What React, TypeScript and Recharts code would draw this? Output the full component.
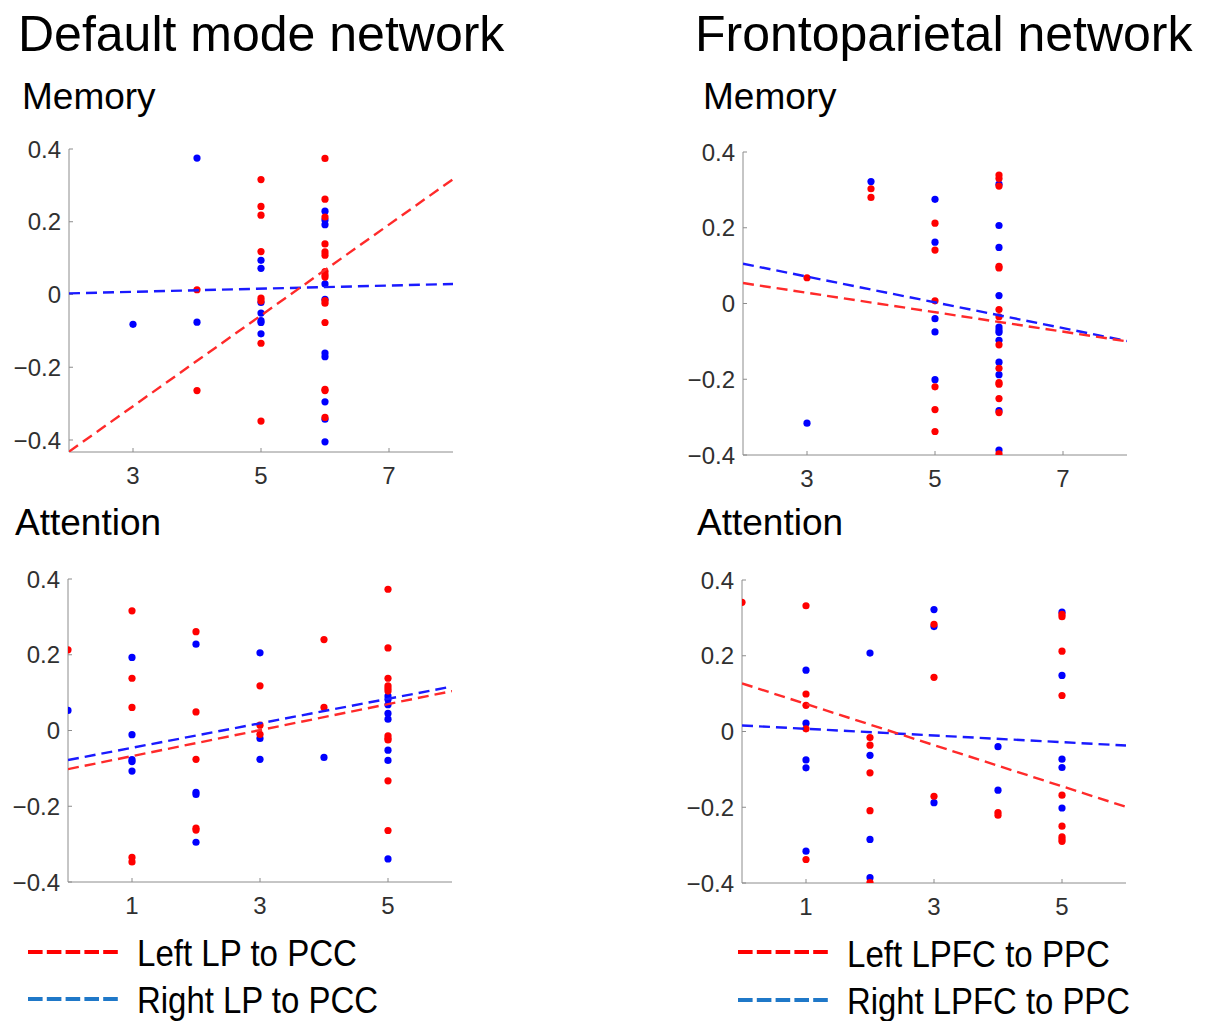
import React from 'react';
import { ScatterChart, Scatter, XAxis, YAxis } from 'recharts';

type Pt = { x: number; y: number };
const pts = (rows: [number, number[]][]): Pt[] =>
  rows.flatMap(([x, ys]) => ys.map((y) => ({ x, y })));

// ---------- Default mode network : Memory ----------
const dmnMemoryLeft: [number, number[]][] = [
  [4, [0.013, -0.264]],
  [5, [0.316, 0.242, 0.218, 0.118, -0.01, -0.018, -0.134, -0.348]],
  [6, [0.374, 0.262, 0.213, 0.139, 0.117, 0.108, 0.063, 0.054, 0.048, -0.017, -0.024, -0.077, -0.261, -0.264, -0.338]],
];
const dmnMemoryRight: [number, number[]][] = [
  [3, [-0.082]],
  [4, [0.375, -0.076]],
  [5, [0.094, 0.072, -0.022, -0.051, -0.072, -0.077, -0.108]],
  [6, [0.229, 0.205, 0.192, 0.029, -0.013, -0.161, -0.171, -0.295, -0.343, -0.405]],
];
const dmnMemoryLeftFit: Pt[] = [{ x: 2, y: -0.432 }, { x: 8, y: 0.317 }];
const dmnMemoryRightFit: Pt[] = [{ x: 2, y: 0.003 }, { x: 8, y: 0.029 }];

// ---------- Frontoparietal network : Memory ----------
const fpnMemoryLeft: [number, number[]][] = [
  [3, [0.068]],
  [4, [0.303, 0.28]],
  [5, [0.212, 0.141, 0.007, -0.22, -0.28, -0.338]],
  [6, [0.339, 0.33, 0.31, 0.098, 0.094, -0.016, -0.035, -0.109, -0.171, -0.209, -0.213, -0.251, -0.288, -0.397]],
];
const fpnMemoryRight: [number, number[]][] = [
  [3, [-0.316]],
  [4, [0.322]],
  [5, [0.275, 0.162, -0.04, -0.075, -0.201]],
  [6, [0.315, 0.206, 0.148, 0.021, -0.062, -0.07, -0.076, -0.097, -0.155, -0.188, -0.283, -0.387]],
];
const fpnMemoryLeftFit: Pt[] = [{ x: 2, y: 0.054 }, { x: 8, y: -0.1 }];
const fpnMemoryRightFit: Pt[] = [{ x: 2, y: 0.105 }, { x: 8, y: -0.099 }];

// ---------- Default mode network : Attention ----------
const dmnAttentionLeft: [number, number[]][] = [
  [0, [0.213]],
  [1, [0.316, 0.138, 0.061, -0.335, -0.347]],
  [2, [0.261, 0.049, -0.076, -0.258, -0.263]],
  [3, [0.118, 0.014, -0.01]],
  [4, [0.24, 0.061]],
  [5, [0.373, 0.218, 0.138, 0.118, 0.111, 0.104, -0.014, -0.021, -0.025, -0.133, -0.264]],
];
const dmnAttentionRight: [number, number[]][] = [
  [0, [0.053]],
  [1, [0.193, -0.011, -0.077, -0.082, -0.107]],
  [2, [0.228, -0.163, -0.169, -0.295]],
  [3, [0.205, -0.021, -0.076]],
  [4, [-0.071]],
  [5, [0.091, 0.082, 0.068, 0.045, 0.03, -0.052, -0.079, -0.339]],
];
const dmnAttentionLeftFit: Pt[] = [{ x: 0, y: -0.102 }, { x: 6, y: 0.104 }];
const dmnAttentionRightFit: Pt[] = [{ x: 0, y: -0.078 }, { x: 6, y: 0.116 }];

// ---------- Frontoparietal network : Attention ----------
const fpnAttentionLeft: [number, number[]][] = [
  [0, [0.341]],
  [1, [0.332, 0.099, 0.069, 0.007, -0.338]],
  [2, [-0.016, -0.036, -0.109, -0.209, -0.399]],
  [3, [0.283, 0.143, -0.171]],
  [4, [-0.214, -0.221]],
  [5, [0.309, 0.303, 0.212, 0.095, -0.168, -0.25, -0.278, -0.284, -0.29]],
];
const fpnAttentionRight: [number, number[]][] = [
  [1, [0.162, 0.022, -0.075, -0.096, -0.316]],
  [2, [0.207, -0.063, -0.285, -0.386]],
  [3, [0.322, 0.277, -0.188]],
  [4, [-0.04, -0.155]],
  [5, [0.315, 0.148, -0.073, -0.095, -0.202]],
];
const fpnAttentionLeftFit: Pt[] = [{ x: 0, y: 0.127 }, { x: 6, y: -0.199 }];
const fpnAttentionRightFit: Pt[] = [{ x: 0, y: 0.016 }, { x: 6, y: -0.037 }];

// ---------- axes / labels ----------
const yTicks = [-0.4, -0.2, 0, 0.2, 0.4];
const memoryXTicks = [3, 5, 7];
const attentionXTicks = [1, 3, 5];
const memoryXDomain: [number, number] = [2, 8];
const attentionXDomain: [number, number] = [0, 6];
const dmnMemoryYDomain: [number, number] = [-0.433, 0.4];
const stdYDomain: [number, number] = [-0.4, 0.4];

const networkTitles = ['Default mode network', 'Frontoparietal network'];
const taskTitles = ['Memory', 'Attention'];
const dmnLegend = ['Left LP to PCC', 'Right LP to PCC'];
const fpnLegend = ['Left LPFC to PPC', 'Right LPFC to PPC'];

const RED = '#ff0000';
const BLUE = '#0000ff';
const LINE_RED = '#ff2a2a';
const LINE_BLUE = '#1a1aff';
const LEGEND_BLUE = '#1f78c8';
const AXIS = '#8c8c8c';
const FONT = '"Liberation Sans", Arial, Helvetica, sans-serif';

const YW = 69;
const PW = 384;
const PH = 303;
const MT = 20;

const fmtY = (v: number) =>
  v === 0 ? '0' : (v < 0 ? '\u2212' : '') + Math.abs(v).toFixed(1);

const Dot = (color: string) => (props: any) => {
  const { cx, cy } = props;
  if (cx == null || cy == null) return <g />;
  return <circle cx={cx} cy={cy} r={3.6} fill={color} />;
};
const NoDot = () => <g />;

type PanelProps = {
  left: number;
  top: number;
  xDomain: [number, number];
  yDomain: [number, number];
  xTicks: number[];
  leftPts: [number, number[]][];
  rightPts: [number, number[]][];
  leftFit: Pt[];
  rightFit: Pt[];
};

function Panel(p: PanelProps) {
  return (
    <div style={{ position: 'absolute', left: p.left - YW, top: p.top - MT }}>
      <ScatterChart
        width={YW + PW + 12}
        height={MT + PH + 45}
        margin={{ top: MT, right: 12, bottom: 5, left: 0 }}
        style={{ fontFamily: FONT }}
      >
        <XAxis
          type="number"
          dataKey="x"
          domain={p.xDomain}
          ticks={p.xTicks}
          allowDataOverflow
          interval={0}
          height={40}
          tickSize={-4}
          tickMargin={19}
          axisLine={{ stroke: AXIS, strokeWidth: 1 }}
          tickLine={{ stroke: AXIS }}
          tick={{ fontSize: 24, fill: '#303030' }}
        />
        <YAxis
          type="number"
          dataKey="y"
          domain={p.yDomain}
          ticks={yTicks}
          allowDataOverflow
          interval={0}
          width={YW}
          tickSize={-4}
          tickMargin={12}
          tickFormatter={fmtY}
          axisLine={{ stroke: AXIS, strokeWidth: 1 }}
          tickLine={{ stroke: AXIS }}
          tick={{ fontSize: 24, fill: '#303030' }}
        />
        <Scatter data={pts(p.rightPts)} fill={BLUE} shape={Dot(BLUE)} isAnimationActive={false} legendType="none" />
        <Scatter data={pts(p.leftPts)} fill={RED} shape={Dot(RED)} isAnimationActive={false} legendType="none" />
        <Scatter
          data={p.rightFit}
          fill={LINE_BLUE}
          shape={NoDot}
          line={{ stroke: LINE_BLUE, strokeWidth: 2.4, strokeDasharray: '11 6' }}
          isAnimationActive={false}
          legendType="none"
        />
        <Scatter
          data={p.leftFit}
          fill={LINE_RED}
          shape={NoDot}
          line={{ stroke: LINE_RED, strokeWidth: 2.4, strokeDasharray: '11 6' }}
          isAnimationActive={false}
          legendType="none"
        />
      </ScatterChart>
    </div>
  );
}

function Legend({ x, lineY, textX, baseY, labels, widths }: { x: number; lineY: number[]; textX: number; baseY: number[]; labels: string[]; widths: number[] }) {
  const colors = [RED, LEGEND_BLUE];
  return (
    <g>
      {labels.map((lab, i) => (
        <g key={lab}>
          <line x1={x} x2={x + 90} y1={lineY[i]} y2={lineY[i]} stroke={colors[i]} strokeWidth={4} strokeDasharray="14.6 4.2" />
          <text x={textX} y={baseY[i]} fontSize={36} fill="#000" textLength={widths[i]} lengthAdjust="spacingAndGlyphs">
            {lab}
          </text>
        </g>
      ))}
    </g>
  );
}

export default function App() {
  return (
    <div style={{ position: 'absolute', left: 0, top: 0, width: 1208, height: 1021, background: '#fff', fontFamily: FONT }}>
      <svg width={1208} height={1021} style={{ position: 'absolute', left: 0, top: 0 }} fontFamily={FONT}>
        <text x={18} y={51} fontSize={50} fill="#000">{networkTitles[0]}</text>
        <text x={695} y={51} fontSize={50} fill="#000">{networkTitles[1]}</text>
        <text x={22} y={109} fontSize={37} fill="#000">{taskTitles[0]}</text>
        <text x={703} y={109} fontSize={37} fill="#000">{taskTitles[0]}</text>
        <text x={15} y={535} fontSize={37} fill="#000">{taskTitles[1]}</text>
        <text x={697} y={535} fontSize={37} fill="#000">{taskTitles[1]}</text>
        <Legend x={28} lineY={[952, 999]} textX={137} baseY={[966, 1013]} labels={dmnLegend} widths={[220, 241]} />
        <Legend x={738} lineY={[952, 1000]} textX={847} baseY={[967, 1014]} labels={fpnLegend} widths={[263, 283]} />
      </svg>
      <Panel left={69} top={149} xDomain={memoryXDomain} yDomain={dmnMemoryYDomain} xTicks={memoryXTicks}
        leftPts={dmnMemoryLeft} rightPts={dmnMemoryRight} leftFit={dmnMemoryLeftFit} rightFit={dmnMemoryRightFit} />
      <Panel left={743} top={152} xDomain={memoryXDomain} yDomain={stdYDomain} xTicks={memoryXTicks}
        leftPts={fpnMemoryLeft} rightPts={fpnMemoryRight} leftFit={fpnMemoryLeftFit} rightFit={fpnMemoryRightFit} />
      <Panel left={68} top={579} xDomain={attentionXDomain} yDomain={stdYDomain} xTicks={attentionXTicks}
        leftPts={dmnAttentionLeft} rightPts={dmnAttentionRight} leftFit={dmnAttentionLeftFit} rightFit={dmnAttentionRightFit} />
      <Panel left={742} top={580} xDomain={attentionXDomain} yDomain={stdYDomain} xTicks={attentionXTicks}
        leftPts={fpnAttentionLeft} rightPts={fpnAttentionRight} leftFit={fpnAttentionLeftFit} rightFit={fpnAttentionRightFit} />
    </div>
  );
}
